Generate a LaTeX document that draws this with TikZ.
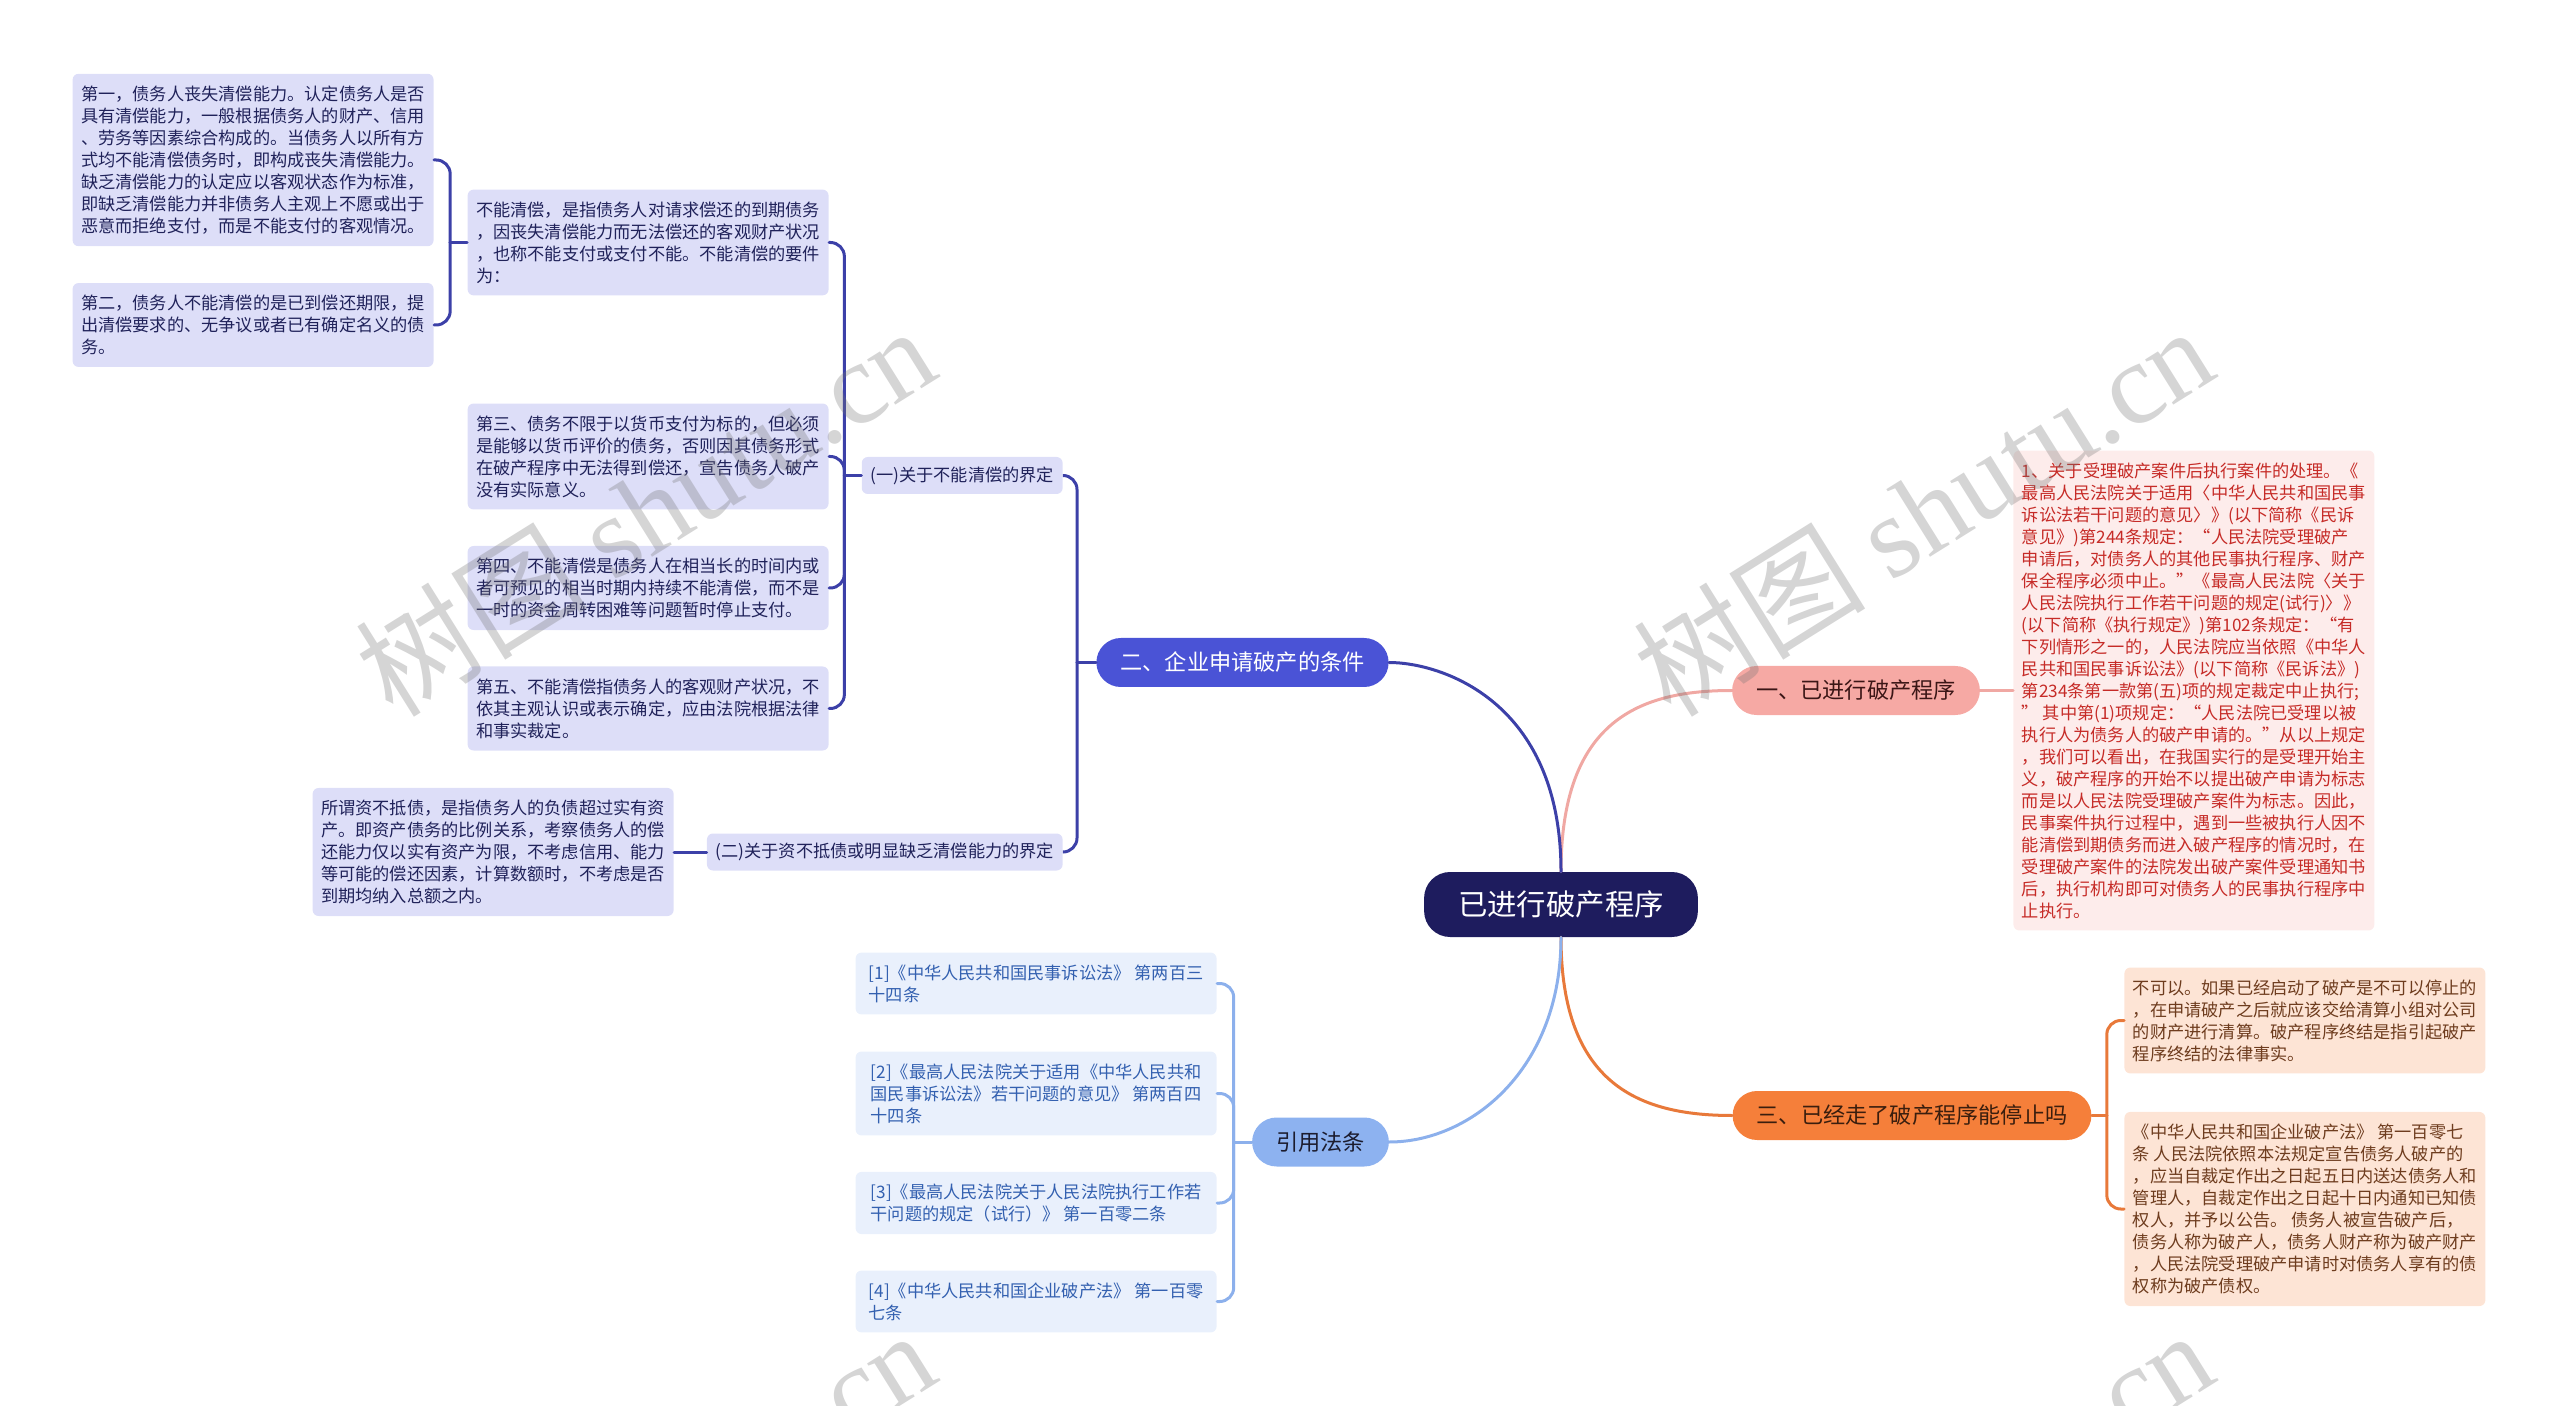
\documentclass[tikz,border=0pt]{standalone}
\usepackage{fontspec}
\setmainfont{Noto Sans CJK SC}
\newfontfamily\wmlatin{Liberation Serif}
\usetikzlibrary{calc}
\definecolor{rootnavy}{HTML}{1E1C5E}
\definecolor{topicblue}{HTML}{4A53D6}
\definecolor{topicpink}{HTML}{F6A9A4}
\definecolor{topicorange}{HTML}{F57F3A}
\definecolor{topicsky}{HTML}{8DB2F0}
\definecolor{pinkink}{HTML}{3B1616}
\definecolor{orangeink}{HTML}{3A1E0E}
\definecolor{skyink}{HTML}{1C1C2E}
\definecolor{lavfill}{HTML}{DDDEF8}
\definecolor{lavink}{HTML}{20225A}
\definecolor{redfill}{HTML}{FDECEB}
\definecolor{redink}{HTML}{C62B27}
\definecolor{peachfill}{HTML}{FDE4D5}
\definecolor{peachink}{HTML}{6E3C1E}
\definecolor{skyfill}{HTML}{E9F0FC}
\definecolor{skytext}{HTML}{3360B0}
\definecolor{navyline}{HTML}{3C40A8}
\definecolor{pinkline}{HTML}{F0A8A3}
\definecolor{orangeline}{HTML}{E8793A}
\definecolor{skyline}{HTML}{8CB0EC}
\tikzset{
  mind/.style={x=0.5pt,y=-0.5pt,line cap=round},
  link/.style={line width=1.5pt},
  hook/.style={link,rounded corners=7pt},
  rootbox/.style={fill=rootnavy,text=white,rounded corners=13pt,
    minimum height=32.5pt,inner xsep=17pt,inner ysep=0pt,
    font=\fontsize{14.7}{16}\selectfont},
  topic/.style={rounded corners=12.25pt,minimum height=24.5pt,
    inner xsep=12pt,inner ysep=0pt,font=\fontsize{11.1}{13}\selectfont},
  subtopic/.style={fill=lavfill,text=lavink,rounded corners=3pt,
    minimum height=18.5pt,inner xsep=4.3pt,inner ysep=0pt,
    font=\fontsize{8.6}{11}\selectfont},
  leaf/.style={rounded corners=3pt,align=left,minimum width=180.5pt,
    inner xsep=4pt,inner ysep=6pt,font=\fontsize{8.6}{11}\selectfont},
  lavleaf/.style={leaf,fill=lavfill,text=lavink},
  redleaf/.style={leaf,fill=redfill,text=redink},
  peachleaf/.style={leaf,fill=peachfill,text=peachink},
  skyleaf/.style={leaf,fill=skyfill,text=skytext},
  watermark/.style={text=black!55,opacity=.3,rotate=32,
    font=\fontsize{58}{62}\selectfont},
}
\begin{document}
\begin{tikzpicture}[mind]
  \path[use as bounding box] (0,0) rectangle (2560,1406);

  % ---------------- centre and main topics ----------------
  \node[rootbox] (root) at (1561,904.5) {已进行破产程序};
  \node[topic,fill=topicpink,text=pinkink] (t1) at (1856,690.5) {一、已进行破产程序};
  \node[topic,fill=topicblue,text=white] (t2) at (1242.5,662.5) {二、企业申请破产的条件};
  \node[topic,fill=topicorange,text=orangeink] (t3) at (1912,1115.5) {三、已经走了破产程序能停止吗};
  \node[topic,fill=topicsky,text=skyink] (t4) at (1320.5,1142) {引用法条};

  \draw[link,pinkline] (root.north) .. controls (1561,720) and (1640,690.5) .. (t1.west);
  \draw[link,navyline] (root.north) .. controls (1561,700) and (1440,662.5) .. (t2.east);
  \draw[link,orangeline] (root.south) .. controls (1561,1085) and (1640,1115.5) .. (t3.west);
  \draw[link,skyline] (root.south) .. controls (1561,1070) and (1470,1142) .. (t4.east);

  % ---------------- (1) already in proceedings ----------------
  \node[redleaf,anchor=west] (exec) at (2013,690.5)
    {1、关于受理破产案件后执行案件的处理。《\\
     最高人民法院关于适用〈中华人民共和国民事\\
     诉讼法若干问题的意见〉》(以下简称《民诉\\
     意见》)第244条规定：“人民法院受理破产\\
     申请后，对债务人的其他民事执行程序、财产\\
     保全程序必须中止。”《最高人民法院〈关于\\
     人民法院执行工作若干问题的规定(试行)〉》\\
     (以下简称《执行规定》)第102条规定：“有\\
     下列情形之一的，人民法院应当依照《中华人\\
     民共和国民事诉讼法》(以下简称《民诉法》)\\
     第234条第一款第(五)项的规定裁定中止执行;\\
     ”~其中第(1)项规定：“人民法院已受理以被\\
     执行人为债务人的破产申请的。”从以上规定\\
     ，我们可以看出，在我国实行的是受理开始主\\
     义，破产程序的开始不以提出破产申请为标志\\
     而是以人民法院受理破产案件为标志。因此，\\
     民事案件执行过程中，遇到一些被执行人因不\\
     能清偿到期债务而进入破产程序的情况时，在\\
     受理破产案件的法院发出破产案件受理通知书\\
     后，执行机构即可对债务人的民事执行程序中\\
     止执行。};
  \draw[link,pinkline] (t1.east) -- (exec.west);

  % ---------------- (2) conditions for filing ----------------
  \node[subtopic,anchor=east] (defa) at (1063,475.5) {(一)关于不能清偿的界定};
  \node[subtopic,anchor=east] (defb) at (1063,852) {(二)关于资不抵债或明显缺乏清偿能力的界定};
  \coordinate (j2) at ($(t2.west)+(-19,0)$);
  \draw[link,navyline] (t2.west) -- (j2);
  \foreach \c in {defa,defb} \draw[hook,navyline] (j2) |- (\c.east);

  \node[lavleaf,anchor=east] (unable) at (829,242.5)
    {不能清偿，是指债务人对请求偿还的到期债务\\
     ，因丧失清偿能力而无法偿还的客观财产状况\\
     ，也称不能支付或支付不能。不能清偿的要件\\
     为：};
  \node[lavleaf,anchor=east] (third) at (829,456.5)
    {第三、债务不限于以货币支付为标的，但必须\\
     是能够以货币评价的债务，否则因其债务形式\\
     在破产程序中无法得到偿还，宣告债务人破产\\
     没有实际意义。};
  \node[lavleaf,anchor=east] (fourth) at (829,588)
    {第四、不能清偿是债务人在相当长的时间内或\\
     者可预见的相当时期内持续不能清偿，而不是\\
     一时的资金周转困难等问题暂时停止支付。};
  \node[lavleaf,anchor=east] (fifth) at (829,708.5)
    {第五、不能清偿指债务人的客观财产状况，不\\
     依其主观认识或表示确定，应由法院根据法律\\
     和事实裁定。};
  \coordinate (ja) at ($(defa.west)+(-17,0)$);
  \draw[link,navyline] (defa.west) -- (ja);
  \foreach \c in {unable,third,fourth,fifth} \draw[hook,navyline] (ja) |- (\c.east);

  \node[lavleaf,anchor=east] (first) at (434,160)
    {第一，债务人丧失清偿能力。认定债务人是否\\
     具有清偿能力，一般根据债务人的财产、信用\\
     、劳务等因素综合构成的。当债务人以所有方\\
     式均不能清偿债务时，即构成丧失清偿能力。\\
     缺乏清偿能力的认定应以客观状态作为标准，\\
     即缺乏清偿能力并非债务人主观上不愿或出于\\
     恶意而拒绝支付，而是不能支付的客观情况。};
  \node[lavleaf,anchor=east] (second) at (434,325)
    {第二，债务人不能清偿的是已到偿还期限，提\\
     出清偿要求的、无争议或者已有确定名义的债\\
     务。};
  \coordinate (jn) at ($(unable.west)+(-17,0)$);
  \draw[link,navyline] (unable.west) -- (jn);
  \foreach \c in {first,second} \draw[hook,navyline] (jn) |- (\c.east);

  \node[lavleaf,anchor=east] (insolv) at (674,852)
    {所谓资不抵债，是指债务人的负债超过实有资\\
     产。即资产债务的比例关系，考察债务人的偿\\
     还能力仅以实有资产为限，不考虑信用、能力\\
     等可能的偿还因素，计算数额时，不考虑是否\\
     到期均纳入总额之内。};
  \draw[link,navyline] (defb.west) -- (insolv.east);

  % ---------------- (3) can it be stopped ----------------
  \node[peachleaf,anchor=west] (nostop) at (2124,1020.5)
    {不可以。如果已经启动了破产是不可以停止的\\
     ，在申请破产之后就应该交给清算小组对公司\\
     的财产进行清算。破产程序终结是指引起破产\\
     程序终结的法律事实。};
  \node[peachleaf,anchor=west] (article) at (2124,1209)
    {《中华人民共和国企业破产法》~第一百零七\\
     条~人民法院依照本法规定宣告债务人破产的\\
     ，应当自裁定作出之日起五日内送达债务人和\\
     管理人，自裁定作出之日起十日内通知已知债\\
     权人，并予以公告。~债务人被宣告破产后，\\
     债务人称为破产人，债务人财产称为破产财产\\
     ，人民法院受理破产申请时对债务人享有的债\\
     权称为破产债权。};
  \coordinate (j3) at ($(t3.east)+(15,0)$);
  \draw[link,orangeline] (t3.east) -- (j3);
  \foreach \c in {nostop,article} \draw[hook,orangeline] (j3) |- (\c.west);

  % ---------------- cited provisions ----------------
  \node[skyleaf,anchor=east] (law1) at (1217,983.5)
    {[1]《中华人民共和国民事诉讼法》~第两百三\\十四条};
  \node[skyleaf,anchor=east] (law2) at (1217,1093.5)
    {[2]《最高人民法院关于适用《中华人民共和\\
     国民事诉讼法》若干问题的意见》~第两百四\\
     十四条};
  \node[skyleaf,anchor=east] (law3) at (1217,1203)
    {[3]《最高人民法院关于人民法院执行工作若\\
     干问题的规定（试行）》~第一百零二条};
  \node[skyleaf,anchor=east] (law4) at (1217,1301.5)
    {[4]《中华人民共和国企业破产法》~第一百零\\七条};
  \coordinate (j4) at ($(t4.west)+(-18,0)$);
  \draw[link,skyline] (t4.west) -- (j4);
  \foreach \c in {law1,law2,law3,law4} \draw[hook,skyline] (j4) |- (\c.east);

  % ---------------- watermark ----------------
  \begin{scope}
    \clip (0,0) rectangle (2560,1406);
    \node[watermark] (wm1) at (645,510) {树图 {\wmlatin shutu.cn}};
    \node[watermark] (wm2) at (1923,510) {树图 {\wmlatin shutu.cn}};
    \node[watermark] (wm3) at (645,1514) {树图 {\wmlatin shutu.cn}};
    \node[watermark] (wm4) at (1923,1514) {树图 {\wmlatin shutu.cn}};
  \end{scope}
\end{tikzpicture}
\end{document}
